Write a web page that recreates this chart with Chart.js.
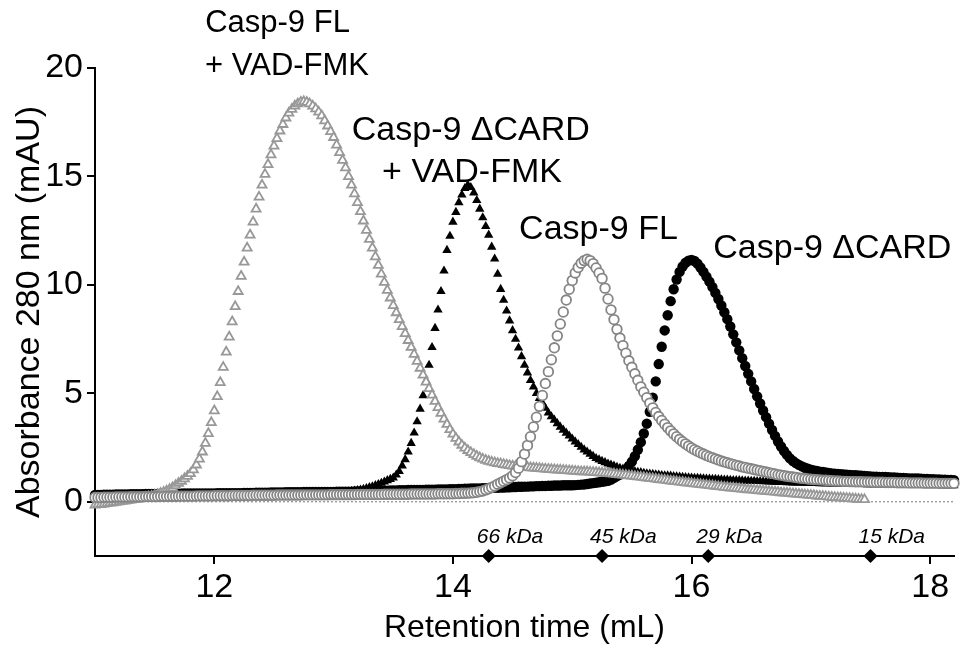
<!DOCTYPE html>
<html>
<head>
<meta charset="utf-8">
<script src="https://cdn.jsdelivr.net/npm/chart.js@4.4.1/dist/chart.umd.min.js"></script>
<style>
html,body{margin:0;padding:0;background:#fff;}
#wrap{width:961px;height:656px;position:relative;}
</style>
</head>
<body>
<div id="wrap"><canvas id="c" width="961" height="656"></canvas></div>
<script>
// Retention time (mL) sampling points
const retentionTime = [
11,11.025,11.05,11.075,11.1,11.125,11.15,11.175,
11.2,11.225,11.25,11.275,11.3,11.325,11.35,11.375,
11.4,11.425,11.45,11.475,11.5,11.525,11.55,11.575,
11.6,11.625,11.65,11.675,11.7,11.725,11.75,11.775,
11.8,11.825,11.85,11.875,11.9,11.925,11.95,11.975,
12,12.025,12.05,12.075,12.1,12.125,12.15,12.175,
12.2,12.225,12.25,12.275,12.3,12.325,12.35,12.375,
12.4,12.425,12.45,12.475,12.5,12.525,12.55,12.575,
12.6,12.625,12.65,12.675,12.7,12.725,12.75,12.775,
12.8,12.825,12.85,12.875,12.9,12.925,12.95,12.975,
13,13.025,13.05,13.075,13.1,13.125,13.15,13.175,
13.2,13.225,13.25,13.275,13.3,13.325,13.35,13.375,
13.4,13.425,13.45,13.475,13.5,13.525,13.55,13.575,
13.6,13.625,13.65,13.675,13.7,13.725,13.75,13.775,
13.8,13.825,13.85,13.875,13.9,13.925,13.95,13.975,
14,14.025,14.05,14.075,14.1,14.125,14.15,14.175,
14.2,14.225,14.25,14.275,14.3,14.325,14.35,14.375,
14.4,14.425,14.45,14.475,14.5,14.525,14.55,14.575,
14.6,14.625,14.65,14.675,14.7,14.725,14.75,14.775,
14.8,14.825,14.85,14.875,14.9,14.925,14.95,14.975,
15,15.025,15.05,15.075,15.1,15.125,15.15,15.175,
15.2,15.225,15.25,15.275,15.3,15.325,15.35,15.375,
15.4,15.425,15.45,15.475,15.5,15.525,15.55,15.575,
15.6,15.625,15.65,15.675,15.7,15.725,15.75,15.775,
15.8,15.825,15.85,15.875,15.9,15.925,15.95,15.975,
16,16.025,16.05,16.075,16.1,16.125,16.15,16.175,
16.2,16.225,16.25,16.275,16.3,16.325,16.35,16.375,
16.4,16.425,16.45,16.475,16.5,16.525,16.55,16.575,
16.6,16.625,16.65,16.675,16.7,16.725,16.75,16.775,
16.8,16.825,16.85,16.875,16.9,16.925,16.95,16.975,
17,17.025,17.05,17.075,17.1,17.125,17.15,17.175,
17.2,17.225,17.25,17.275,17.3,17.325,17.35,17.375,
17.4,17.425,17.45,17.475,17.5,17.525,17.55,17.575,
17.6,17.625,17.65,17.675,17.7,17.725,17.75,17.775,
17.8,17.825,17.85,17.875,17.9,17.925,17.95,17.975,
18,18.025,18.05,18.075,18.1,18.125,18.15,18.175,
18.2
];

// Casp-9 FL + VAD-FMK (grey open triangles)
const casp9FLVad = [
-0.15,-0.13,-0.12,-0.10,-0.08,-0.06,-0.04,-0.02,
0.00,0.02,0.04,0.06,0.08,0.10,0.12,0.15,
0.17,0.20,0.23,0.26,0.30,0.34,0.39,0.44,
0.50,0.57,0.65,0.75,0.85,0.95,1.06,1.18,
1.30,1.48,1.70,1.97,2.30,2.70,3.15,3.65,
4.20,4.85,5.50,6.20,6.90,7.60,8.30,9.00,
9.70,10.40,11.05,11.70,12.30,12.90,13.50,14.05,
14.60,15.10,15.55,16.00,16.40,16.75,17.10,17.40,
17.70,17.92,18.10,18.25,18.35,18.42,18.45,18.42,
18.35,18.25,18.12,17.97,17.80,17.57,17.33,17.07,
16.80,16.45,16.10,15.75,15.40,15.00,14.60,14.20,
13.80,13.38,12.95,12.52,12.10,11.70,11.30,10.90,
10.50,10.12,9.75,9.40,9.05,8.72,8.40,8.08,
7.76,7.44,7.12,6.80,6.48,6.16,5.84,5.52,
5.22,4.92,4.63,4.35,4.08,3.82,3.57,3.33,
3.12,2.93,2.76,2.61,2.48,2.37,2.27,2.18,
2.10,2.03,1.97,1.92,1.87,1.83,1.80,1.77,
1.75,1.72,1.70,1.67,1.65,1.64,1.62,1.61,
1.60,1.59,1.57,1.56,1.55,1.54,1.52,1.51,
1.50,1.49,1.48,1.47,1.46,1.45,1.44,1.43,
1.42,1.41,1.40,1.39,1.39,1.38,1.37,1.36,
1.35,1.34,1.33,1.31,1.30,1.29,1.28,1.26,
1.25,1.23,1.22,1.20,1.19,1.17,1.15,1.14,
1.12,1.10,1.08,1.07,1.05,1.03,1.01,1.00,
0.98,0.96,0.95,0.93,0.91,0.90,0.88,0.87,
0.85,0.83,0.82,0.80,0.78,0.77,0.75,0.74,
0.72,0.70,0.69,0.67,0.66,0.64,0.63,0.61,
0.60,0.59,0.57,0.56,0.55,0.54,0.52,0.51,
0.50,0.49,0.47,0.46,0.45,0.44,0.42,0.41,
0.40,0.39,0.37,0.36,0.35,0.34,0.32,0.31,
0.30,0.29,0.27,0.26,0.25,0.24,0.22,0.21,
0.20,0.19,0.18,0.17,0.16,0.15,0.14,0.13,
0.12,0.11,0.10
];

// Casp-9 ΔCARD + VAD-FMK (black filled triangles)
const casp9dCARDVad = [
0.22,0.22,0.22,0.22,0.23,0.23,0.23,0.23,
0.24,0.24,0.24,0.24,0.25,0.25,0.25,0.25,
0.25,0.26,0.26,0.26,0.26,0.26,0.27,0.27,
0.27,0.27,0.27,0.28,0.28,0.28,0.28,0.28,
0.29,0.29,0.29,0.29,0.29,0.30,0.30,0.30,
0.30,0.30,0.30,0.31,0.31,0.31,0.31,0.31,
0.31,0.32,0.32,0.32,0.32,0.32,0.32,0.33,
0.33,0.33,0.33,0.33,0.34,0.34,0.34,0.34,
0.35,0.35,0.35,0.35,0.36,0.36,0.36,0.37,
0.37,0.37,0.38,0.38,0.38,0.39,0.39,0.40,
0.40,0.41,0.42,0.43,0.44,0.46,0.48,0.50,
0.52,0.55,0.58,0.62,0.66,0.70,0.75,0.80,
0.86,0.92,0.98,1.04,1.10,1.24,1.40,1.66,
1.95,2.30,2.70,3.18,3.70,4.28,4.90,5.58,
6.30,7.12,8.00,8.85,9.70,10.65,11.60,12.25,
12.90,13.35,13.80,14.15,14.45,14.60,14.50,14.25,
13.90,13.50,13.10,12.70,12.30,11.75,11.20,10.50,
9.80,9.30,8.80,8.35,7.90,7.50,7.10,6.70,
6.30,5.95,5.60,5.30,5.00,4.77,4.55,4.32,
4.10,3.93,3.77,3.61,3.45,3.31,3.17,3.04,
2.90,2.77,2.65,2.52,2.40,2.30,2.20,2.10,
2.00,1.94,1.87,1.81,1.75,1.70,1.65,1.60,
1.55,1.52,1.48,1.45,1.42,1.40,1.37,1.35,
1.32,1.30,1.28,1.27,1.25,1.24,1.22,1.21,
1.20,1.19,1.17,1.16,1.15,1.14,1.12,1.11,
1.10,1.09,1.09,1.08,1.07,1.06,1.05,1.04,
1.04,1.03,1.02,1.01,1.01,1.00,0.99,0.98,
0.98,0.97,0.96,0.96,0.95,0.95,0.94,0.94,
0.93,0.93,0.92,0.92,0.91,0.91,0.90,0.90,
0.89,0.89,0.88,0.88,0.87,0.87,0.86,0.86,
0.85,0.85,0.85,0.84,0.84,0.84,0.84,0.83,
0.83,0.83,0.83,0.82,0.82,0.82,0.82,0.81,
0.81,0.81,0.81,0.80,0.80,0.80,0.80,0.80,
0.79,0.79,0.79,0.79,0.79,0.78,0.78,0.78,
0.78,0.78,0.77,0.77,0.77,0.77,0.77,0.76,
0.76,0.76,0.76,0.76,0.75,0.75,0.75,0.75,
0.75
];

// Casp-9 FL (grey open circles)
const casp9FL = [
0.20,0.20,0.20,0.21,0.21,0.21,0.21,0.22,
0.22,0.22,0.22,0.22,0.23,0.23,0.23,0.23,
0.23,0.24,0.24,0.24,0.24,0.24,0.25,0.25,
0.25,0.25,0.25,0.25,0.26,0.26,0.26,0.26,
0.26,0.26,0.27,0.27,0.27,0.27,0.27,0.27,
0.28,0.28,0.28,0.28,0.28,0.28,0.29,0.29,
0.29,0.29,0.29,0.29,0.29,0.30,0.30,0.30,
0.30,0.30,0.30,0.30,0.30,0.31,0.31,0.31,
0.31,0.31,0.31,0.31,0.31,0.31,0.32,0.32,
0.32,0.32,0.32,0.32,0.32,0.32,0.32,0.33,
0.33,0.33,0.33,0.33,0.33,0.33,0.33,0.33,
0.34,0.34,0.34,0.34,0.34,0.34,0.34,0.34,
0.34,0.35,0.35,0.35,0.35,0.35,0.35,0.35,
0.35,0.35,0.36,0.36,0.36,0.36,0.36,0.36,
0.36,0.36,0.36,0.37,0.37,0.37,0.37,0.37,
0.37,0.38,0.38,0.39,0.39,0.40,0.41,0.42,
0.44,0.47,0.50,0.55,0.60,0.66,0.73,0.81,
0.88,0.95,1.02,1.10,1.20,1.35,1.55,1.85,
2.20,2.60,3.00,3.45,3.90,4.40,4.90,5.45,
6.00,6.55,7.10,7.65,8.20,8.75,9.30,9.80,
10.20,10.55,10.80,11.00,11.12,11.18,11.12,10.98,
10.78,10.55,10.30,9.85,9.35,8.85,8.40,7.95,
7.55,7.20,6.85,6.50,6.20,5.90,5.60,5.30,
5.05,4.80,4.55,4.33,4.12,3.93,3.75,3.58,
3.42,3.27,3.13,3.00,2.88,2.77,2.67,2.57,
2.48,2.40,2.33,2.26,2.20,2.14,2.08,2.03,
1.98,1.93,1.88,1.84,1.80,1.76,1.72,1.68,
1.65,1.61,1.58,1.55,1.52,1.49,1.46,1.43,
1.40,1.37,1.34,1.31,1.28,1.25,1.23,1.20,
1.18,1.16,1.14,1.12,1.10,1.08,1.07,1.05,
1.04,1.03,1.02,1.01,1.00,0.99,0.98,0.97,
0.96,0.96,0.95,0.94,0.94,0.93,0.93,0.92,
0.92,0.92,0.91,0.91,0.91,0.90,0.90,0.90,
0.90,0.89,0.89,0.89,0.89,0.88,0.88,0.88,
0.88,0.87,0.87,0.87,0.87,0.87,0.86,0.86,
0.86,0.86,0.86,0.85,0.85,0.85,0.85,0.85,
0.85
];

// Casp-9 ΔCARD (black filled circles)
const casp9dCARD = [
0.32,0.32,0.32,0.33,0.33,0.33,0.33,0.34,
0.34,0.34,0.34,0.34,0.35,0.35,0.35,0.35,
0.35,0.36,0.36,0.36,0.36,0.36,0.37,0.37,
0.37,0.37,0.37,0.37,0.38,0.38,0.38,0.38,
0.38,0.38,0.38,0.38,0.38,0.38,0.38,0.38,
0.38,0.39,0.39,0.39,0.39,0.40,0.40,0.40,
0.40,0.40,0.41,0.41,0.41,0.41,0.42,0.42,
0.42,0.42,0.42,0.43,0.43,0.43,0.43,0.43,
0.44,0.44,0.44,0.44,0.44,0.44,0.45,0.45,
0.45,0.45,0.45,0.45,0.45,0.45,0.45,0.45,
0.45,0.46,0.46,0.46,0.47,0.47,0.47,0.48,
0.48,0.48,0.49,0.49,0.49,0.50,0.50,0.50,
0.51,0.51,0.51,0.52,0.52,0.52,0.53,0.53,
0.53,0.54,0.54,0.54,0.55,0.55,0.55,0.56,
0.56,0.56,0.56,0.57,0.57,0.57,0.57,0.58,
0.58,0.58,0.59,0.59,0.60,0.60,0.61,0.61,
0.62,0.62,0.63,0.63,0.64,0.64,0.65,0.65,
0.66,0.66,0.67,0.67,0.68,0.68,0.69,0.69,
0.70,0.70,0.71,0.71,0.72,0.72,0.73,0.73,
0.74,0.74,0.75,0.75,0.75,0.76,0.76,0.76,
0.76,0.77,0.78,0.79,0.80,0.82,0.84,0.86,
0.88,0.90,0.92,0.94,0.97,1.02,1.10,1.18,
1.26,1.35,1.48,1.65,1.85,2.10,2.40,2.75,
3.15,3.60,4.15,4.80,5.55,6.35,7.15,7.90,
8.60,9.25,9.80,10.25,10.60,10.85,11.02,11.12,
11.15,11.10,10.98,10.80,10.60,10.38,10.15,9.90,
9.63,9.35,9.05,8.74,8.42,8.08,7.72,7.35,
6.98,6.62,6.26,5.90,5.55,5.20,4.86,4.53,
4.21,3.90,3.60,3.31,3.04,2.78,2.55,2.34,
2.16,2.00,1.88,1.78,1.70,1.63,1.57,1.52,
1.48,1.45,1.42,1.39,1.37,1.35,1.33,1.31,
1.29,1.28,1.27,1.26,1.25,1.24,1.23,1.22,
1.21,1.20,1.19,1.18,1.17,1.16,1.16,1.15,
1.14,1.14,1.13,1.12,1.12,1.11,1.10,1.10,
1.09,1.08,1.08,1.07,1.07,1.06,1.05,1.05,
1.04,1.04,1.03,1.03,1.02,1.02,1.01,1.01,
1.00
];

// Molecular-weight standards (elution volume, mL)
const standardNames = ['66 kDa', '45 kDa', '29 kDa', '15 kDa'];
const standardElution = [14.3, 15.25, 16.14, 17.5];

// Axis ranges and ticks
const xRange = [11, 18.2];
const yRange = [-2.5, 20];
const xTickValues = [12, 14, 16, 18];
const yTickValues = [0, 5, 10, 15, 20];

// Peak annotations: text, anchor (retention time, absorbance), font size
const peakLabels = ['Casp-9 FL', '+ VAD-FMK', 'Casp-9 \u0394CARD', '+ VAD-FMK', 'Casp-9 FL', 'Casp-9 \u0394CARD'];
const peakLabelAnchors = [[12.53, 22.05], [12.61, 20.05], [14.15, 17.13], [14.16, 15.19], [15.22, 12.57], [17.18, 11.69]];
const peakLabelSizes = [31, 31, 34, 34, 34, 34];

const FONT = '"Liberation Sans", Arial, Helvetica, sans-serif';
const TICK_SIZE = 34;

const toPoints = (ys) => ys.map((v, i) => ({ x: retentionTime[i], y: v }));

const annotationPlugin = {
  id: 'annotations',
  afterDatasetsDraw(chart) {
    const { ctx, scales: { x, y } } = chart;
    ctx.save();
    ctx.fillStyle = '#000';
    ctx.textAlign = 'center';
    ctx.textBaseline = 'middle';
    peakLabels.forEach((t, i) => {
      ctx.font = peakLabelSizes[i] + 'px ' + FONT;
      ctx.fillText(t, x.getPixelForValue(peakLabelAnchors[i][0]), y.getPixelForValue(peakLabelAnchors[i][1]));
    });
    ctx.font = 'italic 21px ' + FONT;
    ctx.textAlign = 'left';
    ctx.textBaseline = 'alphabetic';
    standardNames.forEach((t, i) => {
      ctx.fillText(t, x.getPixelForValue(standardElution[i]) - 12, y.getPixelForValue(yRange[0]) - 13);
    });
    ctx.restore();
  }
};

const axisCommon = {
  grid: { display: true, drawOnChartArea: false, drawTicks: true, tickLength: 8, tickWidth: 2, tickColor: '#000', color: '#000', lineWidth: 2 },
  border: { display: true, color: '#000', width: 2 },
};

new Chart(document.getElementById('c'), {
  type: 'scatter',
  data: {
    datasets: [
      {
        label: 'MW standards',
        data: standardElution.map(v => ({ x: v, y: yRange[0] })),
        pointStyle: 'rectRot', pointRadius: 7,
        backgroundColor: '#000', borderColor: '#000', borderWidth: 0,
        clip: false, order: 0
      },
      {
        label: 'Casp-9 FL',
        data: toPoints(casp9FL),
        pointStyle: 'circle', pointRadius: 4.8,
        backgroundColor: '#fff', borderColor: '#858585', borderWidth: 1.8,
        clip: false, order: 1
      },
      {
        label: 'Casp-9 FL + VAD-FMK',
        data: toPoints(casp9FLVad),
        pointStyle: 'triangle', pointRadius: 5.2,
        backgroundColor: '#fff', borderColor: '#989898', borderWidth: 1.8,
        clip: false, order: 2
      },
      {
        label: 'Casp-9 \u0394CARD + VAD-FMK',
        data: toPoints(casp9dCARDVad),
        pointStyle: 'triangle', pointRadius: 5.4,
        backgroundColor: '#000', borderColor: '#000', borderWidth: 0,
        clip: false, order: 3
      },
      {
        label: 'Casp-9 \u0394CARD',
        data: toPoints(casp9dCARD),
        pointStyle: 'circle', pointRadius: 5.2,
        backgroundColor: '#000', borderColor: '#000', borderWidth: 0,
        clip: false, order: 4
      },
      {
        type: 'line',
        label: 'baseline',
        data: [{ x: xRange[0], y: 0 }, { x: xRange[1], y: 0 }],
        borderColor: '#777', borderWidth: 1, borderDash: [2, 2],
        pointRadius: 0, fill: false, order: 5
      }
    ]
  },
  options: {
    responsive: false,
    animation: false,
    events: [],
    layout: { padding: { top: 68, right: 3, left: 0, bottom: 0 } },
    plugins: { legend: { display: false }, tooltip: { enabled: false } },
    scales: {
      x: {
        type: 'linear', min: xRange[0], max: xRange[1],
        afterBuildTicks: (s) => { s.ticks = xTickValues.map(v => ({ value: v })); },
        afterFit: (s) => { s.height = 100; },
        ...axisCommon,
        ticks: { color: '#000', font: { family: FONT, size: TICK_SIZE }, padding: 3, maxRotation: 0, autoSkip: false },
        title: { display: true, text: 'Retention time (mL)', color: '#000', font: { family: FONT, size: 32, lineHeight: 1.2 }, padding: { top: 0, bottom: 9 } }
      },
      y: {
        type: 'linear', min: yRange[0], max: yRange[1],
        afterBuildTicks: (s) => { s.ticks = yTickValues.map(v => ({ value: v })); },
        afterFit: (s) => { s.width = 95; },
        ...axisCommon,
        ticks: { color: '#000', font: { family: FONT, size: TICK_SIZE }, padding: 4, autoSkip: false },
        title: { display: true, text: 'Absorbance 280 nm (mAU)', color: '#000', font: { family: FONT, size: TICK_SIZE, lineHeight: 1.2 }, padding: { top: 9, bottom: 0 } }
      }
    }
  },
  plugins: [annotationPlugin]
});
</script>
</body>
</html>
